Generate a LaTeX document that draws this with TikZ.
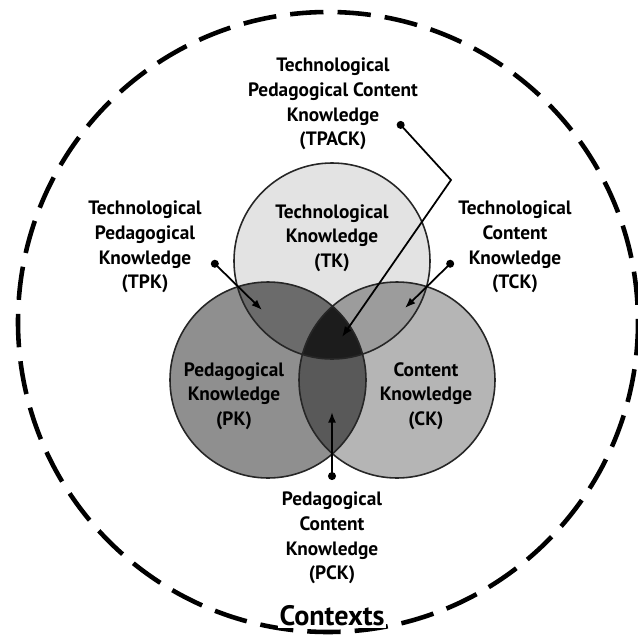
\documentclass[tikz,border=0pt]{standalone}
\usepackage{fontspec}
\setmainfont{PT Sans}
\usetikzlibrary{arrows.meta, positioning}

\definecolor{tkfill}{gray}{0.89}
\definecolor{pkfill}{gray}{0.56}
\definecolor{ckfill}{gray}{0.71}
\definecolor{tpkfill}{gray}{0.42}
\definecolor{tckfill}{gray}{0.61}
\definecolor{pckfill}{gray}{0.35}
\definecolor{tpackfill}{gray}{0.11}

\tikzset{
  venn/.style={draw=black!85, line width=0.9pt},
  lbl/.style={align=center, inner sep=1pt, font=\bfseries\fontsize{11}{14}\selectfont},
  pointer/.style={{Circle[length=4.5pt]}-{Latex[length=6pt, width=4.5pt]}, line width=1pt},
}

\begin{document}
\begin{tikzpicture}[x=0.02cm, y=-0.02cm]
\useasboundingbox (0,0) rectangle (637,639);

% the three circles
\coordinate (tkc) at (332,261);
\coordinate (pkc) at (268,380);
\coordinate (ckc) at (397,380);

\fill[pkfill] (pkc) circle (98);
\fill[ckfill] (ckc) circle (98);
\fill[tkfill] (tkc) circle (98);
\begin{scope}
  \clip (tkc) circle (98);
  \fill[tpkfill] (pkc) circle (98);
  \fill[tckfill] (ckc) circle (98);
\end{scope}
\begin{scope}
  \clip (pkc) circle (98);
  \fill[pckfill] (ckc) circle (98);
  \clip (tkc) circle (98);
  \fill[tpackfill] (ckc) circle (98);
\end{scope}
\draw[venn] (tkc) circle (98);
\draw[venn] (pkc) circle (98);
\draw[venn] (ckc) circle (98);

% contexts
\draw[line width=2.6pt, dash pattern=on 19pt off 8pt] (328,322) circle (310);
\node[fill=white, inner sep=1pt, font=\bfseries\fontsize{16}{18}\selectfont] (ctx) at (332,616) {Contexts};

% labels
\node[lbl] (tk) at (332,238) {Technological\\Knowledge\\(TK)};
\node[lbl] (pk) at (234,396) {Pedagogical\\Knowledge\\(PK)};
\node[lbl] (ck) at (426,396) {Content\\Knowledge\\(CK)};
\node[lbl] (tpack) at (333,104) {Technological\\Pedagogical Content\\Knowledge\\(TPACK)};
\node[lbl] (tpk) at (145,247) {Technological\\Pedagogical\\Knowledge\\(TPK)};
\node[lbl] (tck) at (515,247) {Technological\\Content\\Knowledge\\(TCK)};
\node[lbl] (pck) at (332,538) {Pedagogical\\Content\\Knowledge\\(PCK)};

% pointers
\coordinate (tpackDot) at (398,122);
\coordinate (tpackBend) at (451,180);
\coordinate (tpackTip) at (342,337);
\coordinate (tpkDot) at (212,261);
\coordinate (tpkTip) at (262,310);
\coordinate (tckDot) at (453,261);
\coordinate (tckTip) at (405,308);
\coordinate (pckDot) at (332,480);
\coordinate (pckTip) at (332,412);

\draw[pointer] (tpackDot) -- (tpackBend) -- (tpackTip);
\draw[pointer] (tpkDot) -- (tpkTip);
\draw[pointer] (tckDot) -- (tckTip);
\draw[pointer] (pckDot) -- (pckTip);
\end{tikzpicture}
\end{document}
